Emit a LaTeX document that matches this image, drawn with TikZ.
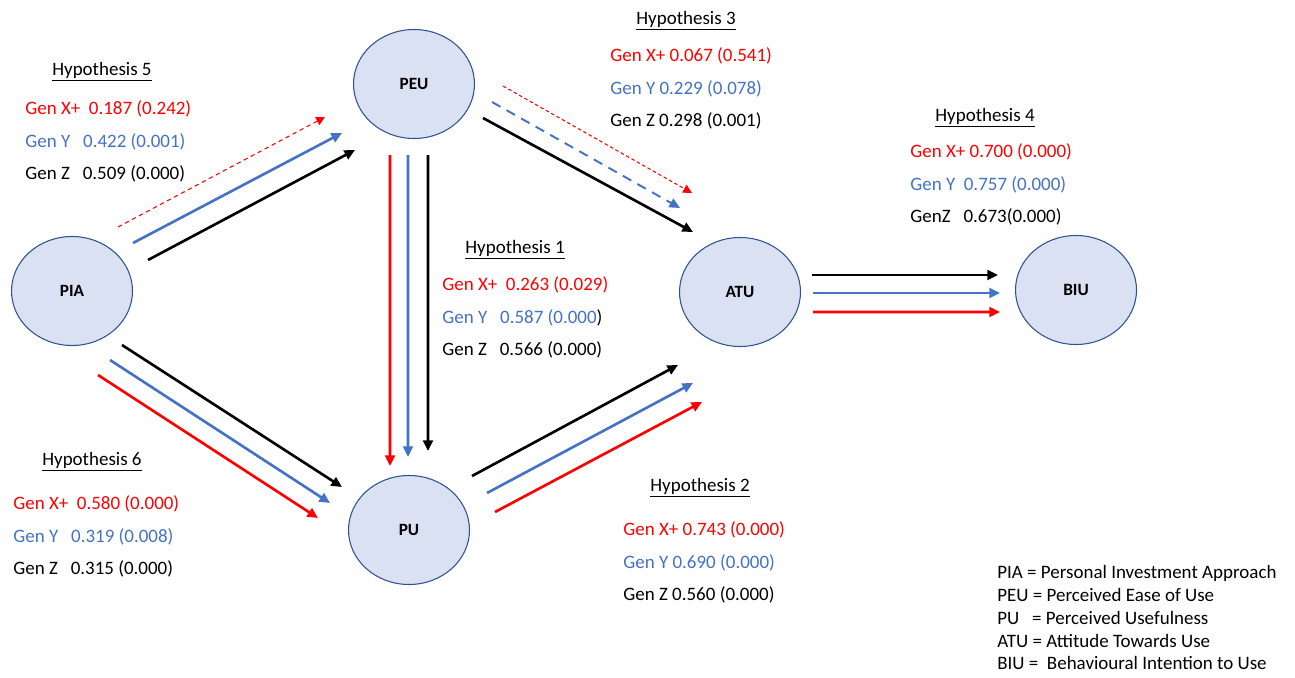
\documentclass[tikz,border=0pt]{standalone}
\usepackage{fontspec}
\setmainfont{Carlito}
\usepackage{tikz}
\usetikzlibrary{positioning}
\usetikzlibrary{shapes.geometric}
\usetikzlibrary{arrows.meta}
\usepackage{xcolor}
\definecolor{genx}{HTML}{FF0000}
\definecolor{geny}{HTML}{4472C4}
\definecolor{nodefill}{HTML}{D9E1F2}
\definecolor{nodeline}{HTML}{2F528F}

\begin{document}
\begin{tikzpicture}[
  construct/.style={ellipse, draw=nodeline, fill=nodefill, line width=0.6pt, minimum width=2.42cm, minimum height=2.18cm, font=\bfseries\fontsize{9.8}{11}\selectfont},
  hyp/.style={inner sep=0pt, font=\fontsize{10.8}{13}\selectfont},
  vals/.style={align=left, anchor=north west, inner sep=0pt, font=\fontsize{10.8}{18.7}\selectfont},
  legend/.style={align=left, anchor=north west, inner sep=0pt, font=\fontsize{10.8}{13}\selectfont},
  zarrow/.style={-{Triangle[length=6pt,width=5.5pt]}, line width=1.5pt, black},
  yarrow/.style={zarrow, geny},
  xarrow/.style={zarrow, genx},
  ydashed/.style={yarrow, line width=1.1pt, dash pattern=on 5.5pt off 4pt},
  xdashed/.style={-{Triangle[length=5pt,width=5pt]}, genx, line width=0.6pt, dash pattern=on 2.5pt off 2pt}
]
\useasboundingbox (0,0) rectangle (25.9,-13.54);

\node[construct] (pia) at (1.44,-5.82) {PIA};
\node[construct] (peu) at (8.28,-1.68) {PEU};
\node[construct] (pu)  at (8.18,-10.6) {PU};
\node[construct] (atu) at (14.8,-5.84) {ATU};
\node[construct] (biu) at (21.52,-5.8) {BIU};

% PIA -> PEU (hypothesis 5)
\draw[xdashed] ([shift={(0.92,1.28)}]pia.center) -- ([shift={(-1.78,-0.66)}]peu.center);
\draw[yarrow]  ([shift={(1.22,0.96)}]pia.center) -- ([shift={(-1.44,-0.98)}]peu.center);
\draw[zarrow]  ([shift={(1.52,0.62)}]pia.center) -- ([shift={(-1.18,-1.32)}]peu.center);

% PEU -> PU (hypothesis 1)
\draw[xarrow] ([shift={(-0.48,-1.42)}]peu.center) -- ([shift={(-0.38,1.28)}]pu.center);
\draw[yarrow] ([shift={(-0.12,-1.42)}]peu.center) -- ([shift={(-0.02,1.46)}]pu.center);
\draw[zarrow] ([shift={(0.28,-1.42)}]peu.center) -- ([shift={(0.38,1.58)}]pu.center);

% PEU -> ATU (hypothesis 3)
\draw[xdashed, dash pattern=on 2pt off 1.5pt] ([shift={(1.78,-0.04)}]peu.center) -- ([shift={(-0.96,1.98)}]atu.center);
\draw[ydashed] ([shift={(1.56,-0.36)}]peu.center) -- ([shift={(-1.2,1.68)}]atu.center);
\draw[zarrow]  ([shift={(1.38,-0.68)}]peu.center) -- ([shift={(-0.94,1.2)}]atu.center);

% PIA -> PU (hypothesis 6)
\draw[zarrow] ([shift={(1.0,-1.08)}]pia.center) -- ([shift={(-1.34,0.86)}]pu.center);
\draw[yarrow] ([shift={(0.76,-1.38)}]pia.center) -- ([shift={(-1.58,0.54)}]pu.center);
\draw[xarrow] ([shift={(0.52,-1.68)}]pia.center) -- ([shift={(-1.82,0.24)}]pu.center);

% PU -> ATU (hypothesis 2)
\draw[zarrow] ([shift={(1.26,1.08)}]pu.center) -- ([shift={(-1.24,-1.46)}]atu.center);
\draw[yarrow] ([shift={(1.56,0.74)}]pu.center) -- ([shift={(-0.94,-1.82)}]atu.center);
\draw[xarrow] ([shift={(1.72,0.36)}]pu.center) -- ([shift={(-0.76,-2.2)}]atu.center);

% ATU -> BIU (hypothesis 4)
\draw[zarrow] ([shift={(1.44,0.34)}]atu.center) -- ([shift={(-1.56,0.3)}]biu.center);
\draw[yarrow] ([shift={(1.46,-0.02)}]atu.center) -- ([shift={(-1.52,-0.06)}]biu.center);
\draw[xarrow] ([shift={(1.46,-0.4)}]atu.center) -- ([shift={(-1.52,-0.44)}]biu.center);

% hypothesis labels
\node[hyp] (h5) at (2.04,-1.44) {\underline{Hypothesis 5}};
\node[vals] (v5) at (0.5,-2.0)
{\textcolor{genx}{Gen X+\ \ 0.187 (0.242)}\\
 \textcolor{geny}{Gen Y\ \ \ 0.422 (0.001)}\\
 Gen Z\ \ \ 0.509 (0.000)};

\node[hyp] (h3) at (13.72,-0.42) {\underline{Hypothesis 3}};
\node[vals] (v3) at (12.2,-0.94)
{\textcolor{genx}{Gen X+ 0.067 (0.541)}\\
 \textcolor{geny}{Gen Y 0.229 (0.078)}\\
 Gen Z 0.298 (0.001)};

\node[hyp] (h1) at (10.3,-5.0) {\underline{Hypothesis 1}};
\node[vals] (v1) at (8.84,-5.52)
{\textcolor{genx}{Gen X+\ \ 0.263 (0.029)}\\
 \textcolor{geny}{Gen Y\ \ \ 0.587 (0.000}){}\\
 Gen Z\ \ \ 0.566 (0.000)};

\node[hyp] (h4) at (19.7,-2.36) {\underline{Hypothesis 4}};
\node[vals] (v4) at (18.2,-2.86)
{\textcolor{genx}{Gen X+ 0.700 (0.000)}\\
 \textcolor{geny}{Gen Y\ \ 0.757 (0.000)}\\
 GenZ\ \ \ 0.673(0.000)};

\node[hyp] (h6) at (1.84,-9.24) {\underline{Hypothesis 6}};
\node[vals] (v6) at (0.26,-9.9)
{\textcolor{genx}{Gen X+\ \ 0.580 (0.000)}\\
 \textcolor{geny}{Gen Y\ \ \ 0.319 (0.008)}\\
 Gen Z\ \ \ 0.315 (0.000)};

\node[hyp] (h2) at (14.0,-9.76) {\underline{Hypothesis 2}};
\node[vals] (v2) at (12.46,-10.42)
{\textcolor{genx}{Gen X+ 0.743 (0.000)}\\
 \textcolor{geny}{Gen Y 0.690 (0.000)}\\
 Gen Z 0.560 (0.000)};

% abbreviations
\node[legend] (abbr) at (19.94,-11.3)
{PIA = Personal Investment Approach\\
 PEU = Perceived Ease of Use\\
 PU\ \ \ = Perceived Usefulness\\
 ATU = Attitude Towards Use\\
 BIU =\ \ Behavioural Intention to Use};

\end{tikzpicture}
\end{document}
